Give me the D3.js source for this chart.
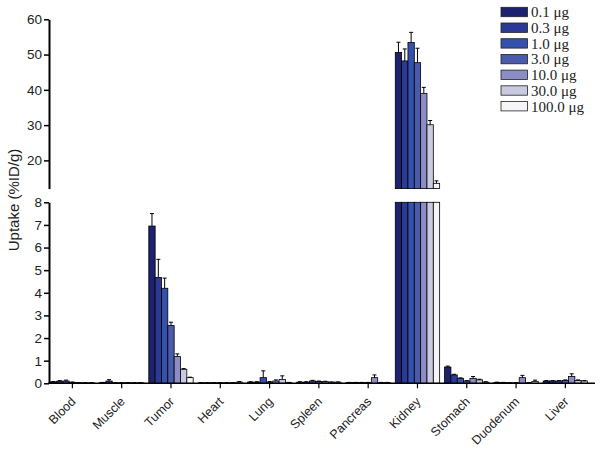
<!DOCTYPE html>
<html>
<head>
<meta charset="utf-8">
<script src="https://cdn.jsdelivr.net/npm/d3@7"></script>
<style>
  body { margin: 0; background: #fff; }
  svg { display: block; }
  .axis text { font-family: "Liberation Sans", Arial, sans-serif; fill: #222; }
  .yaxis text { font-size: 13.5px; }
  .xaxis text { font-size: 12.5px; }
</style>
</head>
<body>
<script>
// organs on the x axis
const organs = ["Blood", "Muscle", "Tumor", "Heart", "Lung", "Spleen", "Pancreas", "Kidney", "Stomach", "Duodenum", "Liver"];
const doses = ["0.1 μg", "0.3 μg", "1.0 μg", "3.0 μg", "10.0 μg", "30.0 μg", "100.0 μg"];
const doseColors = ["#1c226e", "#2a3a95", "#3451ad", "#4a5bab", "#8b8dc4", "#c9c9e2", "#f4f4f9"];

// uptake (%ID/g) per dose, same order as organs
const uptake01 = [0.06, 0.03, 6.95, 0.02, 0.05, 0.05, 0.03, 50.6, 0.72, 0.04, 0.10];
const uptake03 = [0.09, 0.10, 4.68, 0.02, 0.05, 0.05, 0.03, 48.2, 0.37, 0.03, 0.10];
const uptake10 = [0.10, 0.02, 4.20, 0.02, 0.25, 0.10, 0.03, 53.4, 0.22, 0.02, 0.10];
const uptake30 = [0.04, 0.02, 2.55, 0.02, 0.05, 0.08, 0.03, 47.7, 0.10, 0.02, 0.12];
const uptake100 = [0.02, 0.02, 1.18, 0.02, 0.10, 0.07, 0.25, 39.0, 0.22, 0.25, 0.30];
const uptake300 = [0.02, 0.02, 0.62, 0.02, 0.17, 0.05, 0.03, 30.1, 0.15, 0.02, 0.12];
const uptake1000 = [0.02, 0.02, 0.25, 0.05, 0.03, 0.05, 0.03, 13.5, 0.05, 0.08, 0.10];

// error (SD), upper whisker only
const err01 = [0.02, 0.01, 0.55, 0.01, 0.02, 0.02, 0.01, 2.9, 0.04, 0.01, 0.02];
const err03 = [0.03, 0.06, 0.80, 0.01, 0.02, 0.02, 0.01, 3.4, 0.03, 0.01, 0.02];
const err10 = [0.04, 0.01, 0.45, 0.01, 0.30, 0.03, 0.01, 2.9, 0.02, 0.01, 0.02];
const err30 = [0.02, 0.01, 0.15, 0.01, 0.03, 0.02, 0.01, 4.1, 0.02, 0.01, 0.03];
const err100 = [0.01, 0.01, 0.12, 0.01, 0.05, 0.02, 0.12, 1.7, 0.08, 0.10, 0.12];
const err300 = [0.01, 0.01, 0.03, 0.01, 0.16, 0.01, 0.01, 1.2, 0.03, 0.01, 0.03];
const err1000 = [0.01, 0.01, 0.02, 0.03, 0.01, 0.01, 0.01, 0.7, 0.02, 0.06, 0.02];

const lowTicks = [0, 1, 2, 3, 4, 5, 6, 7, 8];
const highTicks = [20, 30, 40, 50, 60];

const series = [uptake01, uptake03, uptake10, uptake30, uptake100, uptake300, uptake1000];
const errors = [err01, err03, err10, err30, err100, err300, err1000];

const width = 602, height = 450;
const axisX = 49;

const svg = d3.select("body").append("svg")
    .attr("width", width)
    .attr("height", height);

// x scales
let x = d3.scaleBand().domain(organs).range([47.75, 590]).paddingInner(0.1).paddingOuter(0.05);
let xDose = d3.scaleBand().domain(doses).range([0, x.bandwidth()]);

// two y segments (broken axis)
let yLow = d3.scaleLinear().domain([0, 8]).range([383.3, 202.3]);
let yHigh = d3.scaleLinear().domain([12, 60]).range([188.6, 19.3]);

// flatten data
let rows = [];
organs.forEach(function (o, i) {
    doses.forEach(function (d, j) {
        rows.push({ organ: o, dose: d, k: j, v: series[j][i], e: errors[j][i] });
    });
});

let bx = function (d) { return x(d.organ) + xDose(d.dose); };
let bw = xDose.bandwidth();

// lower panel bars (clipped at 8)
svg.append("g").selectAll("rect")
    .data(rows)
    .enter().append("rect")
    .attr("x", bx)
    .attr("width", bw)
    .attr("y", function (d) { return yLow(Math.min(d.v, 8)); })
    .attr("height", function (d) { return yLow(0) - yLow(Math.min(d.v, 8)); })
    .style("fill", function (d) { return doseColors[d.k]; })
    .style("stroke", "#000")
    .style("stroke-width", 0.8);

// upper panel bars
let tall = rows.filter(function (d) { return d.v > 12; });
svg.append("g").selectAll("rect")
    .data(tall)
    .enter().append("rect")
    .attr("x", bx)
    .attr("width", bw)
    .attr("y", function (d) { return yHigh(d.v); })
    .attr("height", function (d) { return yHigh(12) - yHigh(d.v); })
    .style("fill", function (d) { return doseColors[d.k]; })
    .style("stroke", "#000")
    .style("stroke-width", 0.8);

// error bars
let ey = function (d) { return d.v > 8 ? yHigh : yLow; };
let eb = svg.append("g").selectAll("g")
    .data(rows)
    .enter().append("g")
    .style("stroke", "#000")
    .style("stroke-width", 1);
eb.append("line")
    .attr("x1", function (d) { return bx(d) + bw / 2; })
    .attr("x2", function (d) { return bx(d) + bw / 2; })
    .attr("y1", function (d) { return ey(d)(d.v); })
    .attr("y2", function (d) { return ey(d)(d.v + d.e); });
eb.append("line")
    .attr("x1", function (d) { return bx(d) + bw / 2 - 2; })
    .attr("x2", function (d) { return bx(d) + bw / 2 + 2; })
    .attr("y1", function (d) { return ey(d)(d.v + d.e); })
    .attr("y2", function (d) { return ey(d)(d.v + d.e); });

// y axes
let gLow = svg.append("g").attr("class", "axis yaxis")
    .attr("transform", "translate(" + axisX + ",0)")
    .call(d3.axisLeft(yLow).tickValues(lowTicks).tickSize(5).tickPadding(2).tickSizeOuter(0));
let gHigh = svg.append("g").attr("class", "axis yaxis")
    .attr("transform", "translate(" + axisX + ",0)")
    .call(d3.axisLeft(yHigh).tickValues(highTicks).tickSize(5).tickPadding(2).tickSizeOuter(0));
[gLow, gHigh].forEach(function (g) {
    g.select(".domain").style("stroke-width", 2);
    g.selectAll(".tick line").style("stroke-width", 1.5);
});

// x axis
let gx = svg.append("g").attr("class", "axis xaxis")
    .attr("transform", "translate(0," + yLow(0) + ")")
    .call(d3.axisBottom(x).tickSize(5).tickSizeOuter(0));
gx.select(".domain").remove();
gx.selectAll(".tick line").style("stroke-width", 1.2);
gx.selectAll(".tick text")
    .attr("text-anchor", "end")
    .attr("y", 0)
    .attr("dy", 0)
    .attr("transform", "translate(4,19) rotate(-45)");
svg.append("line")
    .attr("x1", axisX - 1).attr("x2", 595)
    .attr("y1", yLow(0)).attr("y2", yLow(0))
    .style("stroke", "#000").style("stroke-width", 1.5);

// y label
svg.append("text")
    .attr("transform", "translate(19,200) rotate(-90)")
    .attr("text-anchor", "middle")
    .style("font-family", "Liberation Sans, Arial, sans-serif")
    .style("font-size", "15px")
    .style("fill", "#222")
    .text("Uptake (%ID/g)");

// legend
let lg = svg.append("g").selectAll("g")
    .data(doses)
    .enter().append("g")
    .attr("transform", function (d, i) { return "translate(501," + (7.3 + i * 15.7) + ")"; });
lg.append("rect")
    .attr("width", 26.5)
    .attr("height", 9.4)
    .style("fill", function (d, i) { return doseColors[i]; })
    .style("stroke", "#222")
    .style("stroke-width", 0.8);
lg.append("text")
    .attr("x", 30)
    .attr("y", 10)
    .style("font-family", "Liberation Serif, Times New Roman, serif")
    .style("font-size", "15px")
    .style("fill", "#222")
    .text(function (d) { return d; });
</script>
</body>
</html>
